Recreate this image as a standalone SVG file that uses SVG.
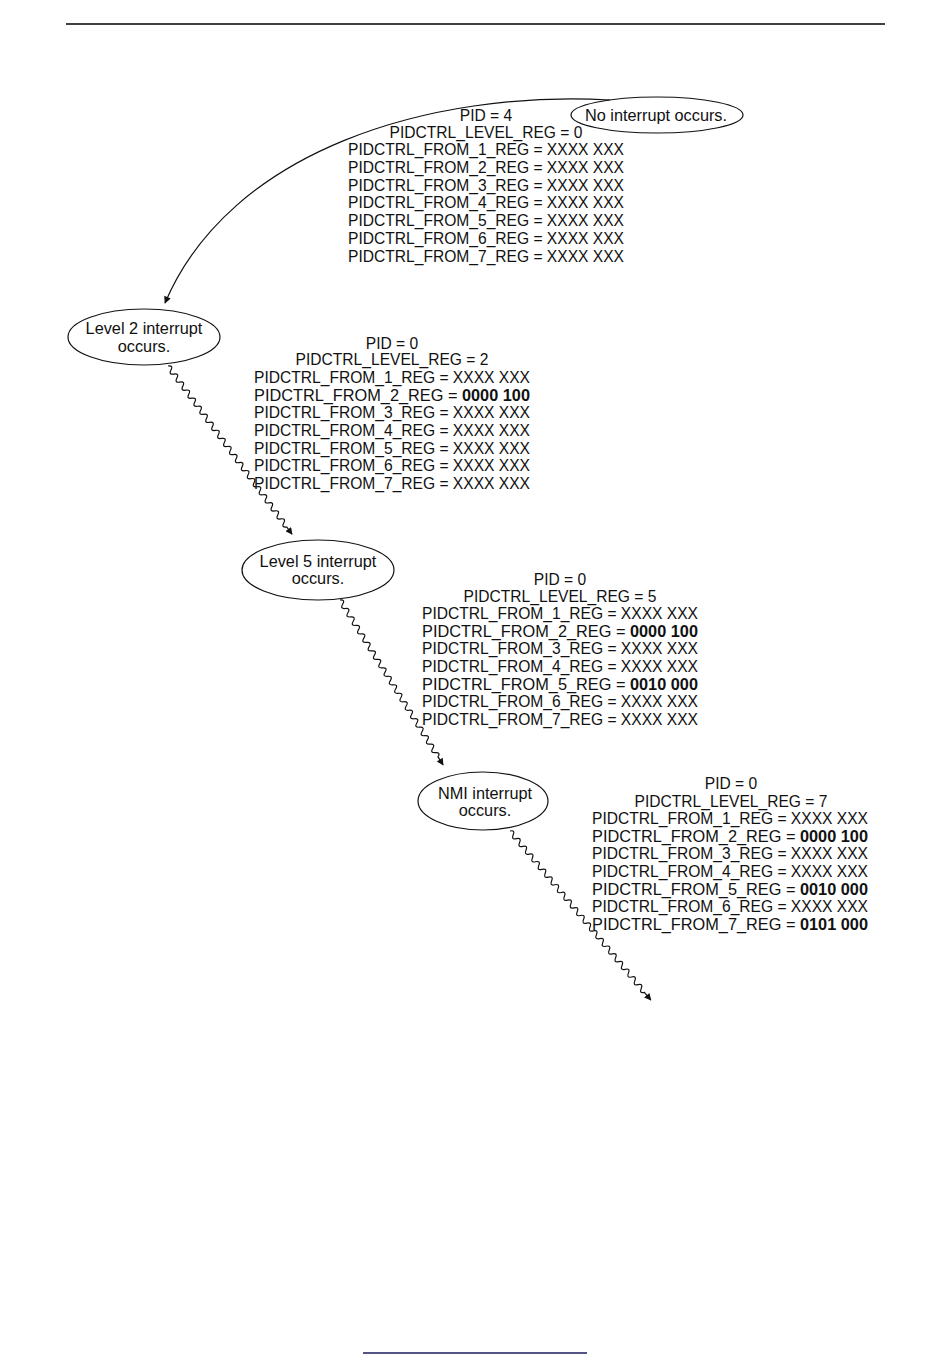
<svg xmlns="http://www.w3.org/2000/svg" width="950" height="1369" viewBox="0 0 950 1369">
<style>
.reg{font-family:"Liberation Sans",Arial,sans-serif;font-size:15.6px;fill:#111;text-anchor:middle}
.row{font-family:"Liberation Sans",Arial,sans-serif;font-size:15.6px;fill:#111;text-anchor:start}
.lbl{font-family:"Liberation Sans",Arial,sans-serif;font-size:16.3px;fill:#111;text-anchor:middle}
.b{font-weight:bold}
.node{fill:none;stroke:#111;stroke-width:1.2}
.conn{fill:none;stroke:#111;stroke-width:1.2}
</style>
<defs>
<marker id="arr" viewBox="0 0 10 10" refX="9" refY="5" markerWidth="9" markerHeight="7" markerUnits="userSpaceOnUse" orient="auto">
<path d="M0,0 L10,5 L0,10 z" fill="#111"/>
</marker>
</defs>
<rect width="950" height="1369" fill="#fff"/>
<line x1="66" y1="24" x2="885" y2="24" stroke="#000" stroke-width="1.5"/>
<line x1="363" y1="1353" x2="587" y2="1353" stroke="#1a1a5e" stroke-width="1.3"/>

<g id="connectors">
<path class="conn" d="M610,100 C430,90 230,150 165,303" marker-end="url(#arr)"/>
<g transform="translate(168,366) rotate(53.6)">
<path class="conn" marker-end="url(#arr)" d="M0,0 q2.5,-5 5,0 t5,0 5,0 5,0 5,0 5,0 5,0 5,0 5,0 5,0 5,0 5,0 5,0 5,0 5,0 5,0 5,0 5,0 5,0 5,0 5,0 5,0 5,0 5,0 5,0 5,0 5,0 5,0 5,0 5,0 5,0 5,0 5,0 5,0 5,0 5,0 5,0 5,0 5,0 5,0 l9,0"/>
</g>
<g transform="translate(340,600) rotate(58)">
<path class="conn" marker-end="url(#arr)" d="M0,0 q2.5,-5 5,0 t5,0 5,0 5,0 5,0 5,0 5,0 5,0 5,0 5,0 5,0 5,0 5,0 5,0 5,0 5,0 5,0 5,0 5,0 5,0 5,0 5,0 5,0 5,0 5,0 5,0 5,0 5,0 5,0 5,0 5,0 5,0 5,0 5,0 5,0 5,0 5,0 l9.5,0"/>
</g>
<g transform="translate(510,831) rotate(50.2)">
<path class="conn" marker-end="url(#arr)" d="M0,0 q2.5,-5 5,0 t5,0 5,0 5,0 5,0 5,0 5,0 5,0 5,0 5,0 5,0 5,0 5,0 5,0 5,0 5,0 5,0 5,0 5,0 5,0 5,0 5,0 5,0 5,0 5,0 5,0 5,0 5,0 5,0 5,0 5,0 5,0 5,0 5,0 5,0 5,0 5,0 5,0 5,0 5,0 5,0 5,0 l10,0"/>
</g>
</g>

<g id="node-no-interrupt">
<ellipse class="node" cx="657" cy="115" rx="86" ry="18"/>
<text class="lbl" x="656" y="121">No interrupt occurs.</text>
</g>
<g id="node-level2">
<ellipse class="node" cx="144" cy="337" rx="76" ry="28"/>
<text class="lbl" x="144" y="334">Level 2 interrupt</text>
<text class="lbl" x="144" y="352">occurs.</text>
</g>
<g id="node-level5">
<ellipse class="node" cx="318" cy="570" rx="76" ry="30"/>
<text class="lbl" x="318" y="567">Level 5 interrupt</text>
<text class="lbl" x="318" y="584">occurs.</text>
</g>
<g id="node-nmi">
<ellipse class="node" cx="483" cy="801" rx="65" ry="29"/>
<text class="lbl" x="485" y="799">NMI interrupt</text>
<text class="lbl" x="485" y="816">occurs.</text>
</g>

<g id="state-initial">
<text class="reg" x="486" y="121">PID = 4</text>
<text class="reg" x="486" y="138">PIDCTRL_LEVEL_REG = 0</text>
<text class="row" x="348" y="155" textLength="276" lengthAdjust="spacingAndGlyphs">PIDCTRL_FROM_1_REG = XXXX XXX</text>
<text class="row" x="348" y="172.8" textLength="276" lengthAdjust="spacingAndGlyphs">PIDCTRL_FROM_2_REG = XXXX XXX</text>
<text class="row" x="348" y="190.6" textLength="276" lengthAdjust="spacingAndGlyphs">PIDCTRL_FROM_3_REG = XXXX XXX</text>
<text class="row" x="348" y="208.4" textLength="276" lengthAdjust="spacingAndGlyphs">PIDCTRL_FROM_4_REG = XXXX XXX</text>
<text class="row" x="348" y="226.2" textLength="276" lengthAdjust="spacingAndGlyphs">PIDCTRL_FROM_5_REG = XXXX XXX</text>
<text class="row" x="348" y="244" textLength="276" lengthAdjust="spacingAndGlyphs">PIDCTRL_FROM_6_REG = XXXX XXX</text>
<text class="row" x="348" y="261.8" textLength="276" lengthAdjust="spacingAndGlyphs">PIDCTRL_FROM_7_REG = XXXX XXX</text>
</g>
<g id="state-level2">
<text class="reg" x="392" y="349">PID = 0</text>
<text class="reg" x="392" y="365">PIDCTRL_LEVEL_REG = 2</text>
<text class="row" x="254" y="383" textLength="276" lengthAdjust="spacingAndGlyphs">PIDCTRL_FROM_1_REG = XXXX XXX</text>
<text class="row" x="254" y="400.7" textLength="276" lengthAdjust="spacingAndGlyphs">PIDCTRL_FROM_2_REG = <tspan class="b">0000 100</tspan></text>
<text class="row" x="254" y="418.3" textLength="276" lengthAdjust="spacingAndGlyphs">PIDCTRL_FROM_3_REG = XXXX XXX</text>
<text class="row" x="254" y="436" textLength="276" lengthAdjust="spacingAndGlyphs">PIDCTRL_FROM_4_REG = XXXX XXX</text>
<text class="row" x="254" y="453.7" textLength="276" lengthAdjust="spacingAndGlyphs">PIDCTRL_FROM_5_REG = XXXX XXX</text>
<text class="row" x="254" y="471.3" textLength="276" lengthAdjust="spacingAndGlyphs">PIDCTRL_FROM_6_REG = XXXX XXX</text>
<text class="row" x="254" y="489" textLength="276" lengthAdjust="spacingAndGlyphs">PIDCTRL_FROM_7_REG = XXXX XXX</text>
</g>
<g id="state-level5">
<text class="reg" x="560" y="585">PID = 0</text>
<text class="reg" x="560" y="602">PIDCTRL_LEVEL_REG = 5</text>
<text class="row" x="422" y="619" textLength="276" lengthAdjust="spacingAndGlyphs">PIDCTRL_FROM_1_REG = XXXX XXX</text>
<text class="row" x="422" y="636.7" textLength="276" lengthAdjust="spacingAndGlyphs">PIDCTRL_FROM_2_REG = <tspan class="b">0000 100</tspan></text>
<text class="row" x="422" y="654.3" textLength="276" lengthAdjust="spacingAndGlyphs">PIDCTRL_FROM_3_REG = XXXX XXX</text>
<text class="row" x="422" y="672" textLength="276" lengthAdjust="spacingAndGlyphs">PIDCTRL_FROM_4_REG = XXXX XXX</text>
<text class="row" x="422" y="689.7" textLength="276" lengthAdjust="spacingAndGlyphs">PIDCTRL_FROM_5_REG = <tspan class="b">0010 000</tspan></text>
<text class="row" x="422" y="707.3" textLength="276" lengthAdjust="spacingAndGlyphs">PIDCTRL_FROM_6_REG = XXXX XXX</text>
<text class="row" x="422" y="725" textLength="276" lengthAdjust="spacingAndGlyphs">PIDCTRL_FROM_7_REG = XXXX XXX</text>
</g>
<g id="state-nmi">
<text class="reg" x="731" y="789">PID = 0</text>
<text class="reg" x="731" y="807">PIDCTRL_LEVEL_REG = 7</text>
<text class="row" x="592" y="824" textLength="276" lengthAdjust="spacingAndGlyphs">PIDCTRL_FROM_1_REG = XXXX XXX</text>
<text class="row" x="592" y="841.7" textLength="276" lengthAdjust="spacingAndGlyphs">PIDCTRL_FROM_2_REG = <tspan class="b">0000 100</tspan></text>
<text class="row" x="592" y="859.3" textLength="276" lengthAdjust="spacingAndGlyphs">PIDCTRL_FROM_3_REG = XXXX XXX</text>
<text class="row" x="592" y="877" textLength="276" lengthAdjust="spacingAndGlyphs">PIDCTRL_FROM_4_REG = XXXX XXX</text>
<text class="row" x="592" y="894.7" textLength="276" lengthAdjust="spacingAndGlyphs">PIDCTRL_FROM_5_REG = <tspan class="b">0010 000</tspan></text>
<text class="row" x="592" y="912.3" textLength="276" lengthAdjust="spacingAndGlyphs">PIDCTRL_FROM_6_REG = XXXX XXX</text>
<text class="row" x="592" y="930" textLength="276" lengthAdjust="spacingAndGlyphs">PIDCTRL_FROM_7_REG = <tspan class="b">0101 000</tspan></text>
</g>
</svg>
